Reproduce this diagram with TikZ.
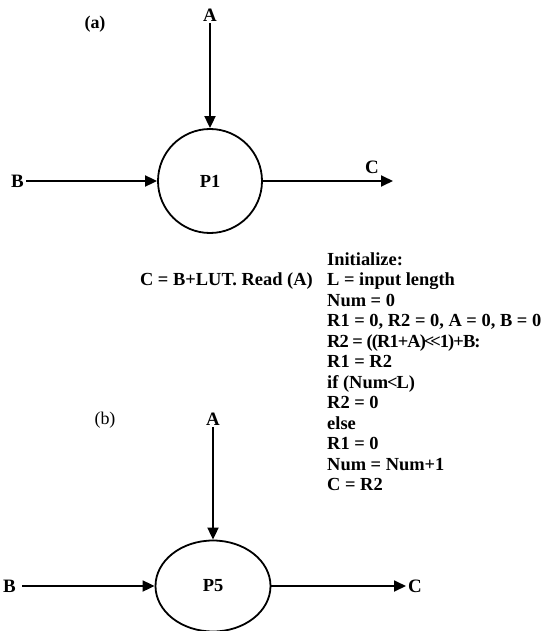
\documentclass[tikz,border=0pt]{standalone}
\usepackage{fontspec}
\setmainfont{Liberation Serif}
\usetikzlibrary{arrows.meta,shapes.geometric}
\newcommand{\codefont}{\fontsize{18.5}{20}\selectfont\bfseries}
\begin{document}
\begin{tikzpicture}[x=1bp,y=-1bp,
  lbl/.style={font=\fontsize{19}{20}\selectfont\bfseries, inner sep=2bp},
  tag/.style={font=\fontsize{18}{20}\selectfont, inner sep=0pt},
  txt/.style={font=\codefont, inner sep=0pt, anchor=base west},
  proc/.style={draw, line width=1.8bp, inner sep=0pt, font=\fontsize{18.5}{20}\selectfont\bfseries},
  conn/.style={line width=1.8bp, -{Triangle[length=12bp,width=11bp]}}]
\useasboundingbox (0,0) rectangle (552,631);

% (a)
\node[tag, font=\fontsize{18}{20}\selectfont\bfseries] (ta) at (95,24) {(a)};
\node[proc, circle, minimum size=104bp] (p1) at (210,181) {P1};
\node[lbl] (a1) at (210,15) {A};
\node[lbl, anchor=east] (b1) at (26,181) {B};
\coordinate (c1end) at (393,181);
\node[lbl] (c1) at (372,167) {C};
\draw[conn] (a1.south) -- (p1.north);
\draw[conn] (b1.east) -- (p1.west);
\draw[conn] (p1.east) -- (c1end);

% formula
\node[txt, anchor=base east] (form) at (313,285) {C = B+LUT. Read (A)};
\foreach \t [count=\i from 0] in {Initialize:, L = input length, Num = 0,
  {R1 = 0, R2 = 0, A = 0, B = 0},
  {\addfontfeatures{LetterSpace=-5}R2 = ((R1+A)\kern-2bp<\kern-4bp<\kern-1bp1)+B:},
  R1 = R2, {if (Num\kern-1bp<\kern-1bp L)},
  R2 = 0, else, R1 = 0, Num = Num+1, C = R2}
  \node[txt] (l\i) at (327,265+20.5*\i) {\t};

% (b)
\node[tag] (tb) at (105,420) {(b)};
\node[proc, ellipse, minimum width=115bp, minimum height=91bp] (p5) at (213,586) {P5};
\node[lbl] (a2) at (213,419) {A};
\node[lbl, anchor=east] (b2) at (18,586) {B};
\node[lbl, anchor=west] (c2) at (406,586) {C};
\draw[conn] (b2.east) ++(4,0) coordinate (b2s) (b2s) -- (p5.west);
\draw[conn] (a2.south) -- (p5.north);
\draw[conn] (p5.east) -- (c2.west);
\end{tikzpicture}
\end{document}
